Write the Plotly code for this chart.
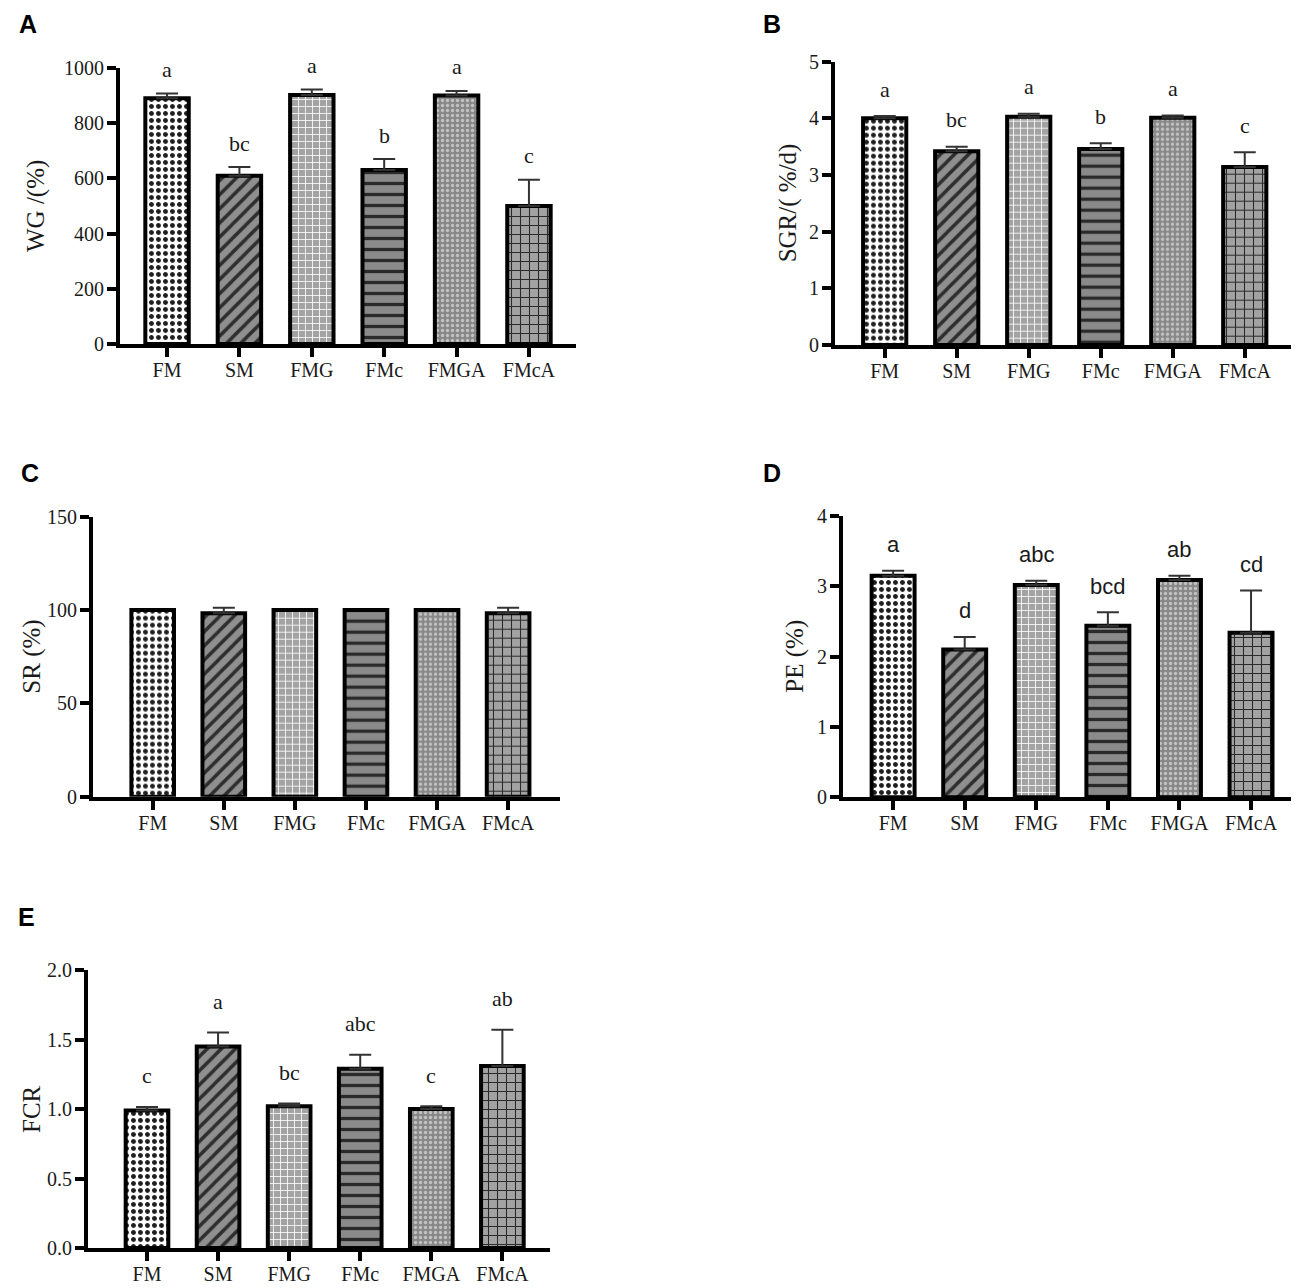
import plotly.graph_objects as go

W, H = 1299, 1288
OFF = 8  # page body margin of the exported html
FW, FH = W - OFF, H - OFF

groups = ['FM', 'SM', 'FMG', 'FMc', 'FMGA', 'FMcA']

wg = [890, 610, 902, 630, 900, 500]
wg_err = [18, 31, 20, 40, 17, 95]
wg_letters = ['a', 'bc', 'a', 'b', 'a', 'c']

sgr = [4.00, 3.42, 4.03, 3.46, 4.01, 3.14]
sgr_err = [0.04, 0.08, 0.05, 0.10, 0.04, 0.26]
sgr_letters = ['a', 'bc', 'a', 'b', 'a', 'c']

sr = [100, 98.3, 100, 100, 100, 98.3]
sr_err = [0, 2.9, 0, 0, 0, 2.9]

pe = [3.15, 2.10, 3.02, 2.44, 3.09, 2.34]
pe_err = [0.07, 0.18, 0.06, 0.19, 0.06, 0.60]
pe_letters = ['a', 'd', 'abc', 'bcd', 'ab', 'cd']

fcr = [0.99, 1.45, 1.02, 1.29, 1.00, 1.31]
fcr_err = [0.025, 0.10, 0.02, 0.10, 0.02, 0.26]
fcr_letters = ['c', 'a', 'bc', 'abc', 'c', 'ab']

# one fill style per diet group
shapes = ['.', '/', '+', '-', '.', '+']
fg = ['#202020', '#2e2e2e', '#ffffff', '#2a2a2a', '#c2c2c2', '#2a2a2a']
bg = ['#ffffff', '#8f8f8f', '#a3a3a3', '#8a8a8a', '#888888', '#a2a2a2']
psize = [7, 10, 7, 11, 5, 9]
solid = [0.4, 0.35, 0.22, 0.3, 0.35, 0.22]

SERIF = 'Liberation Serif'
SANS = 'Liberation Sans'


def xp(p):
    return (p - OFF) / FW


def yp(p):
    return 1 - (p - OFF) / FH


panels = [
    # values, err, letters, ytitle, yrange, dtick, fmt, x px span, y px span, xrange, letter font, yshift, title x
    (wg, wg_err, wg_letters, 'WG /(%)', [0, 1000], 200, '',
     (120, 576), (68, 344), [-0.65, 5.65], SERIF, 24, 36),
    (sgr, sgr_err, sgr_letters, 'SGR/( %/d)', [0, 5], 1, '',
     (835, 1293), (61.7, 345), [-0.69, 5.67], SERIF, 27, 788),
    (sr, sr_err, None, 'SR (%)', [0, 150], 50, '',
     (93, 560), (516.7, 796.7), [-0.84, 5.73], SERIF, 20, 32),
    (pe, pe_err, pe_letters, 'PE (%)', [0, 4], 1, '',
     (843, 1299), (516, 797.3), [-0.70, 5.67], SANS, 26, 795),
    (fcr, fcr_err, fcr_letters, 'FCR', [0, 2], 0.5, '.1f',
     (88, 550), (970, 1248), [-0.83, 5.67], SERIF, 31, 31),
]

panel_labels = [('A', 28, 18), ('B', 772, 16), ('C', 30, 473), ('D', 772, 473), ('E', 26, 917)]

fig = go.Figure()
annotations = []

for i, (vals, err, letters, ytitle, yr, dt, fmt, xs, ys, xr, lfont, ysh, tx) in enumerate(panels):
    n = '' if i == 0 else str(i + 1)
    for j, g in enumerate(groups):
        fig.add_trace(go.Bar(
            x=[g], y=[vals[j]], width=0.6,
            xaxis='x' + n, yaxis='y' + n,
            marker=dict(color=bg[j],
                        line=dict(color='black', width=4),
                        pattern=dict(shape=shapes[j], fgcolor=fg[j], bgcolor=bg[j],
                                     size=psize[j], solidity=solid[j], fillmode='replace')),
            error_y=dict(type='data', symmetric=False, array=[err[j]],
                         arrayminus=[0], color='#333333',
                         thickness=2, width=11, visible=err[j] > 0),
            showlegend=False,
        ))
    fig.update_layout(**{
        'xaxis' + n: dict(domain=[xp(xs[0]), xp(xs[1])], anchor='y' + n, range=xr,
                          type='category', categoryorder='array', categoryarray=groups,
                          automargin=False,
                          showline=True, linewidth=4, linecolor='black',
                          ticks='outside', ticklen=9, tickwidth=4, tickcolor='black',
                          ticklabelstandoff=-4,
                          showgrid=False, zeroline=False,
                          tickfont=dict(family=SERIF, size=20, color='#1a1a1a')),
        'yaxis' + n: dict(domain=[yp(ys[1]), yp(ys[0])], anchor='x' + n, range=yr,
                          dtick=dt, tickformat=fmt, automargin=False,
                          showline=True, linewidth=4, linecolor='black',
                          ticks='outside', ticklen=9, tickwidth=4, tickcolor='black',
                          ticklabelstandoff=-1,
                          showgrid=False, zeroline=False,
                          tickfont=dict(family=SERIF, size=20, color='#1a1a1a')),
    })
    # y axis title
    annotations.append(dict(x=xp(tx), y=yp((ys[0] + ys[1]) / 2), xref='paper', yref='paper',
                            text=ytitle, textangle=-90, showarrow=False,
                            xanchor='center', yanchor='middle',
                            font=dict(family=SERIF, size=25, color='#1a1a1a')))
    if letters:
        for g, v, e, t in zip(groups, vals, err, letters):
            annotations.append(dict(x=g, y=v + e, xref='x' + n, yref='y' + n,
                                    text=t, showarrow=False, yanchor='middle',
                                    yshift=ysh,
                                    font=dict(family=lfont, size=22, color='#1a1a1a')))

for lab, px, py in panel_labels:
    # keep the top labels inside the figure box
    top = yp(py) > 0.98
    annotations.append(dict(x=xp(px), y=1.0 if top else yp(py), xref='paper', yref='paper',
                            text='<b>' + lab + '</b>', showarrow=False,
                            xanchor='center', yanchor='top' if top else 'middle',
                            font=dict(family=SANS, size=25, color='black')))

fig.update_layout(width=FW, height=FH, margin=dict(l=0, r=0, t=0, b=0),
                  paper_bgcolor='white', plot_bgcolor='white',
                  barmode='overlay', annotations=annotations)

fig.write_html('out.html')
